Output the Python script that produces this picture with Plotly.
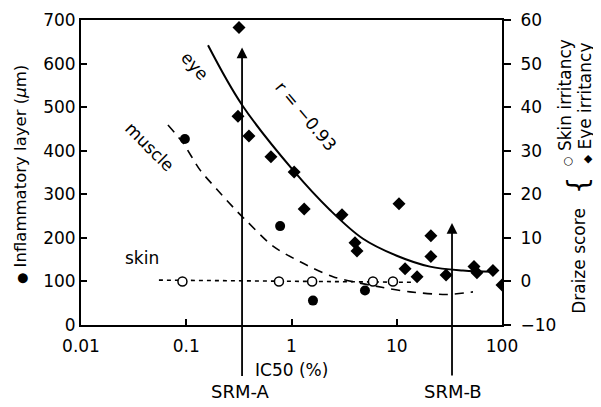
import math
import plotly.graph_objects as go

# ---- data ----
# Inflammatory layer (left axis, µm) - filled circles
infl_x = [0.097, 0.78, 1.60, 4.99]
infl_y = [427, 227, 56, 79]

# Skin irritancy (right axis, Draize score) - open circles
skin_x = [0.092, 0.76, 1.57, 5.94, 9.2]
skin_y = [0, 0, 0, 0, 0]

# Eye irritancy (right axis, Draize score) - filled diamonds
eye_x = [0.317, 0.310, 0.394, 0.638, 1.06, 1.32, 3.02, 10.5, 4.01, 4.19,
         21.1, 21.1, 12.0, 15.6, 29.4, 54.2, 57.8, 82, 100]
eye_y = [58.3, 37.9, 33.4, 28.6, 25.1, 16.6, 15.3, 17.8, 8.9, 7.0,
         10.5, 5.7, 2.9, 1.1, 1.5, 3.4, 2.0, 2.5, -0.8]

# Eye fitted curve (right axis)
eye_fit_x = [0.161, 0.339, 1.03, 2.32, 4.78, 10.0, 20.7, 42.6, 82]
eye_fit_y = [54.2, 40.5, 25.6, 16.4, 9.8, 5.9, 3.4, 2.5, 2.2]

# Muscle fitted curve (left axis)
mus_fit_x = [0.067, 0.093, 0.135, 0.196, 0.303, 0.377, 0.667, 1.21, 2.48, 7.4, 13.4, 30, 53]
mus_fit_y = [459, 418, 356, 311, 261, 238, 181, 145, 111, 86, 76, 70, 76]

# Skin fitted line (right axis)
skin_fit_x = [0.055, 14]
skin_fit_y = [0.3, -0.2]

# Reference substances
srm_a_x, srm_a_y = 0.339, 637
srm_b_x, srm_b_y = 33.5, 234

x_tickvals = [0.01, 0.1, 1, 10, 100]
x_ticktext = ["0.01", "0.1", "1", "10", "100"]
yl_ticks = [0, 100, 200, 300, 400, 500, 600, 700]
yr_ticks = [-10, 0, 10, 20, 30, 40, 50, 60]

FONT = "DejaVu Sans"
fig = go.Figure()

fig.add_trace(go.Scatter(x=mus_fit_x, y=mus_fit_y, mode="lines", line_shape="spline",
                         line=dict(color="black", width=1.6, dash="9px,7px", smoothing=0.8),
                         yaxis="y"))
fig.add_trace(go.Scatter(x=eye_fit_x, y=eye_fit_y, mode="lines", line_shape="spline",
                         line=dict(color="black", width=2, smoothing=1.0), yaxis="y2"))
fig.add_trace(go.Scatter(x=skin_fit_x, y=skin_fit_y, mode="lines",
                         line=dict(color="black", width=1.6, dash="4px,4px"), yaxis="y2"))
fig.add_trace(go.Scatter(x=infl_x, y=infl_y, mode="markers", yaxis="y",
                         marker=dict(symbol="circle", size=10, color="black")))
fig.add_trace(go.Scatter(x=skin_x, y=skin_y, mode="markers", yaxis="y2",
                         marker=dict(symbol="circle", size=9, color="white",
                                     line=dict(color="black", width=1.5))))
fig.add_trace(go.Scatter(x=eye_x, y=eye_y, mode="markers", yaxis="y2",
                         marker=dict(symbol="diamond", size=10, color="black")))

ann = []
# arrows
for sx, sy, ay in [(srm_a_x, srm_a_y, 330), (srm_b_x, srm_b_y, 154)]:
    ann.append(dict(x=math.log10(sx), y=sy, xref="x", yref="y", ax=0, ay=ay,
                    showarrow=True, arrowhead=2, arrowsize=1.2, arrowwidth=1.8,
                    arrowcolor="black", text=""))

def txt(x, y, s, size=17, angle=0, xref="paper", yref="paper"):
    ann.append(dict(x=x, y=y, xref=xref, yref=yref, text=s, showarrow=False,
                    textangle=angle, font=dict(family=FONT, size=size, color="black"),
                    xanchor="center", yanchor="middle"))

txt(math.log10(0.121), 594, "eye", 17, 48, "x", "y")
txt(math.log10(0.045), 408, "muscle", 17, 45, "x", "y")
txt(math.log10(1.37), 480, "r = \u22120.93", 17, 50, "x", "y")
txt(math.log10(0.038), 154, "skin", 17, 0, "x", "y")

txt(0.501, -0.146, "IC50 (%)", 17)
txt(0.378, -0.218, "SRM-A", 18)
txt(0.884, -0.218, "SRM-B", 18)
txt(-0.145, 0.495, "<span style='font-size:13px'>\u25cf</span> Inflammatory layer (<i>\u03bc</i>m)", 16.5, -90)
txt(1.181, 0.211, "Draize score", 17, -90)
txt(1.181, 0.459, "{", 28, -90)
txt(1.150, 0.728, "<span style='font-size:11px'>\u25cb</span> Skin irritancy", 17, -90)
txt(1.196, 0.728, "<span style='font-size:11px'>\u25c6</span> Eye irritancy", 17, -90)

# page has an 8px body margin, so the figure is 8px smaller and margins reduced
fig.update_layout(
    width=593, height=399,
    margin=dict(l=73, r=99, t=12, b=82, autoexpand=False),
    paper_bgcolor="white", plot_bgcolor="white",
    showlegend=False,
    font=dict(family=FONT, size=17, color="black"),
    xaxis=dict(type="log", range=[-2, 2], tickvals=x_tickvals, ticktext=x_ticktext,
               ticks="inside", ticklen=6, tickwidth=1.5, tickcolor="black",
               showline=True, linecolor="black", linewidth=2, mirror=True,
               showgrid=False, zeroline=False, tickfont=dict(size=17), automargin=False,
               ticklabelstandoff=5),
    yaxis=dict(range=[0, 700], tickvals=yl_ticks, ticks="inside", ticklen=6,
               tickwidth=1.5, tickcolor="black", showline=True, linecolor="black",
               linewidth=2, showgrid=False, zeroline=False, tickfont=dict(size=17),
               automargin=False),
    yaxis2=dict(range=[-10, 60], tickvals=yr_ticks, overlaying="y", side="right",
                ticks="outside", ticklen=7, tickwidth=1.5, tickcolor="black",
                showline=True, linecolor="black", linewidth=2, showgrid=False,
                zeroline=False, tickfont=dict(size=17), automargin=False,
                ticklabelstandoff=6),
    annotations=ann,
)

fig.write_html("out.html")
